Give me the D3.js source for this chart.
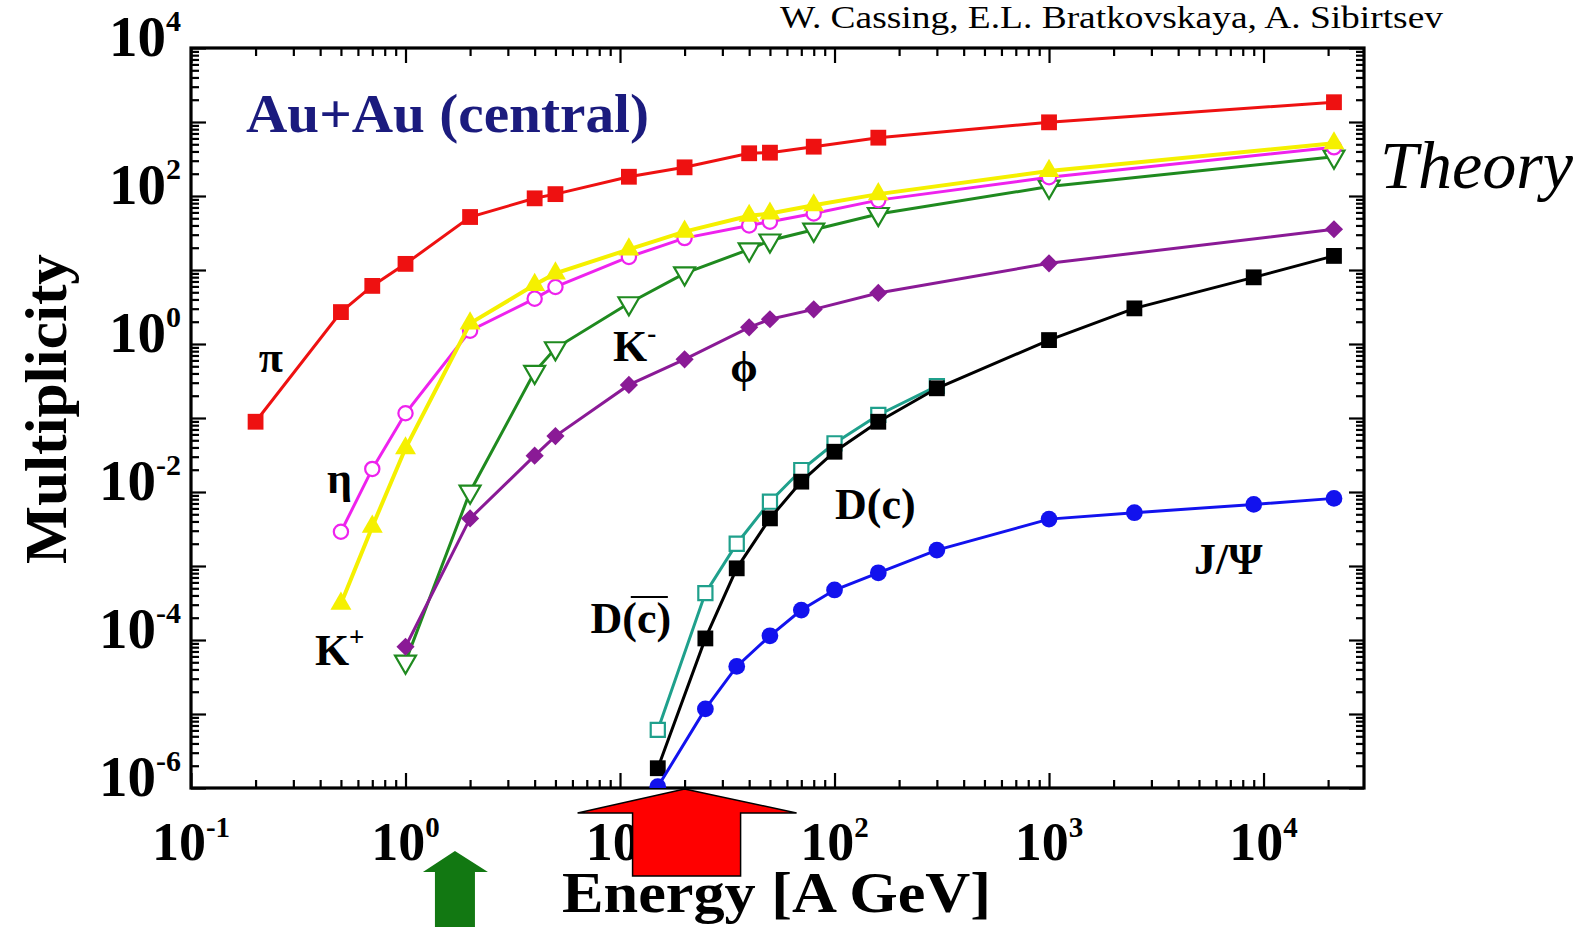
<!DOCTYPE html>
<meta charset="utf-8">
<script src="https://d3js.org/d3.v7.min.js"></script>
<style>
  body { margin: 0; background: #fff; }
  svg text { font-family: "Liberation Serif", "Times New Roman", serif; }
</style>
<div id="chart"></div>
<script>

// beam energies [A GeV]
var energyPi   = [0.2, 0.5, 0.7, 1, 2, 4, 5, 11, 20, 40, 50, 80, 160, 1000, 21300];
var energyEta  = [0.5, 0.7, 1, 2, 4, 5, 11, 20, 40, 50, 80, 160, 1000, 21300];
var energyKm   = [1, 2, 4, 5, 11, 20, 40, 50, 80, 160, 1000, 21300];
var energyCharm = [15, 25, 35, 50, 70, 100, 160, 300, 1000, 2500, 9000, 21300];
var energyDbar = [15, 25, 35, 50, 70, 100, 160, 300];

// multiplicities
var pion  = [0.089, 2.7, 6.1, 12.1, 52, 93, 106, 182, 244, 378, 385, 464, 614, 990, 1850];
var kplus = [3.1e-4, 3.4e-3, 0.039, 1.9, 6.3, 9.0, 19, 33, 54, 58, 75, 106, 218, 515];
var eta   = [2.9e-3, 0.0205, 0.116, 1.51, 4.1, 5.9, 15, 27, 40, 45, 58, 88, 179, 455];
var kminus = [5.1e-5, 0.0101, 0.42, 0.875, 3.55, 9.0, 19, 25, 35, 57, 134, 340];
var phi   = [8.1e-5, 4.4e-3, 0.031, 0.057, 0.28, 0.62, 1.68, 2.16, 2.94, 4.9, 12.3, 35.5];
var dCharm = [1.85e-6, 1.05e-4, 9.3e-4, 4.4e-3, 0.0138, 0.035, 0.089, 0.252, 1.13, 3.03, 7.96, 15.5];
var dAnti  = [6.1e-6, 4.3e-4, 2.0e-3, 7.4e-3, 0.0198, 0.0455, 0.11, 0.27];
var jpsi  = [1.04e-6, 1.17e-5, 4.4e-5, 1.14e-4, 2.54e-4, 4.74e-4, 8.1e-4, 1.64e-3, 4.3e-3, 5.25e-3, 6.8e-3, 8.2e-3];

// tick exponents
var xExponents = [-1, 0, 1, 2, 3, 4];
var yExponents = [-6, -4, -2, 0, 2, 4];

// arrows below the axis (energy they point at)
var arrowEnergies = [1.7, 20];

var W = 1593, H = 932;
var pl = 191, pr = 1364, pt = 48, pb = 788;

var svg = d3.select("#chart").append("svg")
    .attr("width", W)
    .attr("height", H);

var x = d3.scaleLog().domain([0.1, 29400]).range([pl, pr]);
var y = d3.scaleLog().domain([1e-6, 1e4]).range([pb, pt]);

// minor / major tick values
var xMajor = xExponents.map(function(e) { return Math.pow(10, e); });
var xMinor = [];
xExponents.forEach(function(e) {
  for (var m = 2; m <= 9; m++) {
    var v = m * Math.pow(10, e);
    if (v < 29400) xMinor.push(v);
  }
});
var yMajor = d3.range(-6, 5).map(function(e) { return Math.pow(10, e); });
var yMinor = [];
d3.range(-6, 4).forEach(function(e) {
  for (var m = 2; m <= 9; m++) yMinor.push(m * Math.pow(10, e));
});

function drawAxis(gen, scale, vals, len, tr) {
  svg.append("g")
    .attr("transform", tr)
    .call(gen(scale).tickValues(vals).tickSize(-len).tickSizeOuter(0).tickFormat(""))
    .call(function(g) { g.select(".domain").remove(); })
    .selectAll("line").attr("stroke", "#000").attr("stroke-width", 2.2);
}
drawAxis(d3.axisBottom, x, xMajor, 15, "translate(0," + pb + ")");
drawAxis(d3.axisBottom, x, xMinor, 8, "translate(0," + pb + ")");
drawAxis(d3.axisTop, x, xMajor, 15, "translate(0," + pt + ")");
drawAxis(d3.axisTop, x, xMinor, 8, "translate(0," + pt + ")");
drawAxis(d3.axisLeft, y, yMajor, 15, "translate(" + pl + ",0)");
drawAxis(d3.axisLeft, y, yMinor, 8, "translate(" + pl + ",0)");
drawAxis(d3.axisRight, y, yMajor, 15, "translate(" + pr + ",0)");
drawAxis(d3.axisRight, y, yMinor, 8, "translate(" + pr + ",0)");

// frame
svg.append("rect")
  .attr("x", pl).attr("y", pt)
  .attr("width", pr - pl).attr("height", pb - pt)
  .attr("fill", "none").attr("stroke", "#000").attr("stroke-width", 3.2);

// tick labels
var xl = svg.append("g").selectAll("text").data(xExponents).enter().append("text")
  .attr("x", function(d) { return x(Math.pow(10, d)); })
  .attr("y", 860)
  .attr("text-anchor", "middle")
  .attr("font-weight", "bold")
  .attr("font-size", 54)
  .text("10");
xl.append("tspan").attr("font-size", 29).attr("dy", -23)
  .text(function(d) { return d; });

var yl = svg.append("g").selectAll("text").data(yExponents).enter().append("text")
  .attr("x", 181)
  .attr("y", function(d) { return y(Math.pow(10, d)) + 8; })
  .attr("text-anchor", "end")
  .attr("font-weight", "bold")
  .attr("font-size", 57)
  .text("10");
yl.append("tspan").attr("font-size", 30).attr("dy", -25)
  .text(function(d) { return d; });

// curves
svg.append("clipPath").attr("id", "plotclip").append("rect")
  .attr("x", pl).attr("y", pt).attr("width", pr - pl).attr("height", pb - pt);
var plot = svg.append("g").attr("clip-path", "url(#plotclip)");

var line = d3.line()
  .x(function(d) { return x(d[0]); })
  .y(function(d) { return y(d[1]); });

function series(es, vs, color, shape, open, width, rot) {
  var pts = es.map(function(e, i) { return [e, vs[i]]; });
  plot.append("path").datum(pts)
    .attr("d", line)
    .attr("fill", "none")
    .attr("stroke", color)
    .attr("stroke-width", width);
  var sym = d3.symbol().type(shape.type).size(shape.size);
  plot.selectAll(null).data(pts).enter().append("path")
    .attr("d", sym)
    .attr("transform", function(d) {
      return "translate(" + x(d[0]) + "," + y(d[1]) + ") rotate(" + rot + ")";
    })
    .attr("fill", open ? "#fff" : color)
    .attr("stroke", color)
    .attr("stroke-width", open ? 2.2 : 0);
}

var sq = {type: d3.symbolSquare, size: 250};
var sqOpen = {type: d3.symbolSquare, size: 200};
var tri = {type: d3.symbolTriangle, size: 190};
var circ = {type: d3.symbolCircle, size: 160};
var dia = {type: d3.symbolSquare, size: 165};

series(energyKm, kminus, "#1f8a1f", tri, true, 3, 180);
series(energyEta, eta, "#ee22ee", circ, true, 3, 0);
series(energyEta, kplus, "#f5f000", tri, false, 4, 0);
series(energyPi, pion, "#ee1111", sq, false, 3, 0);
series(energyKm, phi, "#8a1a96", dia, false, 3, 45);
series(energyDbar, dAnti, "#1fa08c", sqOpen, true, 3, 0);
series(energyCharm, dCharm, "#000000", sq, false, 3, 0);
series(energyCharm, jpsi, "#1212ee", {type: d3.symbolCircle, size: 220}, false, 3, 0);

// curve labels (placed in data coordinates)
var labels = [
  {t: "π",  e: 0.207, m: 0.42},
  {t: "η",  e: 0.43,  m: 0.0097},
  {t: "K",  s: "+", e: 0.378, m: 4.6e-5},
  {t: "K",  s: "-", e: 9.27, m: 0.59},
  {t: "ϕ",  e: 37.8,  m: 0.306, anchor: "middle"},
  {t: "D(c)", e: 100.5, m: 4.3e-3},
  {t: "D(c)", bar: true, e: 17.3, m: 1.24e-4, anchor: "end"},
  {t: "J/Ψ", e: 4740, m: 7.8e-4}
];
var lab = svg.append("g").selectAll("text").data(labels).enter().append("text")
  .attr("x", function(d) { return x(d.e); })
  .attr("y", function(d) { return y(d.m); })
  .attr("text-anchor", function(d) { return d.anchor || "start"; })
  .attr("font-weight", "bold")
  .attr("font-size", 44)
  .attr("fill", "#000")
  .text(function(d) { return d.t; });
lab.filter(function(d) { return d.s; }).append("tspan")
  .attr("font-size", 27).attr("dy", -19)
  .text(function(d) { return d.s; });
// overline over the anti-charm
lab.filter(function(d) { return d.bar; }).each(function(d) {
  var bb = this.getBBox();
  svg.append("line")
    .attr("x1", bb.x + bb.width * 0.5).attr("x2", bb.x + bb.width * 0.96)
    .attr("y1", bb.y + 3).attr("y2", bb.y + 3)
    .attr("stroke", "#000").attr("stroke-width", 2);
});

// system label
svg.append("text")
  .attr("x", 246).attr("y", 132)
  .attr("font-weight", "bold")
  .attr("font-size", 54)
  .attr("fill", "#1b1b7e")
  .attr("textLength", 403).attr("lengthAdjust", "spacingAndGlyphs")
  .text("Au+Au (central)");

// axis titles
svg.append("text")
  .attr("transform", "translate(66,409) rotate(-90)")
  .attr("text-anchor", "middle")
  .attr("font-weight", "bold")
  .attr("font-size", 60)
  .attr("textLength", 310).attr("lengthAdjust", "spacingAndGlyphs")
  .text("Multiplicity");

svg.append("text")
  .attr("x", 562).attr("y", 912)
  .attr("font-weight", "bold")
  .attr("font-size", 56)
  .attr("textLength", 429).attr("lengthAdjust", "spacingAndGlyphs")
  .text("Energy [A GeV]");

svg.append("text")
  .attr("x", 780).attr("y", 28)
  .attr("font-size", 32)
  .attr("textLength", 663).attr("lengthAdjust", "spacingAndGlyphs")
  .text("W. Cassing, E.L. Bratkovskaya, A. Sibirtsev");

svg.append("text")
  .attr("x", 1380).attr("y", 188)
  .attr("font-style", "italic")
  .attr("font-size", 68)
  .attr("textLength", 193).attr("lengthAdjust", "spacingAndGlyphs")
  .text("Theory");

// arrows
var gx = x(arrowEnergies[0]);
svg.append("path")
  .attr("d", d3.line()([[gx, 851], [gx + 33, 872], [gx + 20, 872], [gx + 20, 927],
                        [gx - 20, 927], [gx - 20, 872], [gx - 32, 872]]) + "Z")
  .attr("fill", "#127812");

var rx = x(arrowEnergies[1]);
svg.append("path")
  .attr("d", d3.line()([[rx, pb + 1], [rx + 112, 813], [rx + 56, 813], [rx + 56, 876],
                        [rx - 52, 876], [rx - 52, 813], [rx - 107, 813]]) + "Z")
  .attr("fill", "#ff0000")
  .attr("stroke", "#000")
  .attr("stroke-width", 1.5);

</script>
